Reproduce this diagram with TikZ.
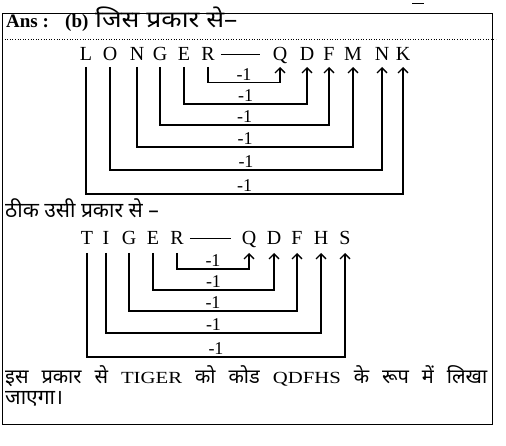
\documentclass[tikz,border=0pt]{standalone}
\usepackage{fontspec}
\setmainfont{Liberation Serif}
\newfontfamily\hin[Script=Devanagari]{Noto Sans}
\usetikzlibrary{arrows.meta}
\newcommand{\hw}[1]{{\hin\fontsize{20}{22}\selectfont #1}}
\newcommand{\lw}[1]{\scalebox{1.22}[1]{\fontsize{17}{19}\selectfont #1}}
\tikzset{
  ltr/.style={anchor=base, inner sep=0pt, font=\fontsize{20}{22}\selectfont},
  conn/.style={line width=1.4pt, black},
  arr/.style={conn, -{Straight Barb[length=5pt,width=10pt,line width=1.4pt]}},
  lbl/.style={midway, above=1.5pt, inner sep=0pt, font=\fontsize{18}{20}\selectfont},
  frame/.style={line width=0.8pt},
  txt/.style={anchor=base west, inner sep=0pt}
}
\begin{document}
\begin{tikzpicture}[x=1pt,y=-1pt]
\useasboundingbox (0,0) rectangle (506,446);
% frame
\draw[frame] (2,13) -- (492,13) -- (492,424) -- (2,424) -- cycle;
\draw[line width=0.6pt, dotted] (2,39) -- (496,39);
\draw[line width=0.8pt] (412,3) -- (424,3);
% heading
\node[txt] (ans) at (6,28) {\fontsize{19}{21}\selectfont\bfseries Ans :};
\node[txt] (b) at (65,28) {\fontsize{19}{21}\selectfont\bfseries (b)};
\node[txt] (h1) at (95,28) {\scalebox{1.15}[1]{\hin\fontsize{23}{25}\selectfont जिस प्रकार से–}};
% LONGER row
\foreach \n/\t/\x in {L1/L/86, O1/O/110, N1/N/137, G1/G/160, E1/E/184, R1/R/208,
  Q1/Q/280, D1/D/307, F1/F/329, M1/M/353, N2/N/382, K1/K/403}
  \node[ltr] (\n) at (\x,61) {\t};
\draw[conn] ([xshift=6pt]R1.east) -- ++(39pt,0);
\foreach \a/\b/\y in {R1/Q1/82.7, E1/D1/104, G1/F1/125, N1/M1/147, O1/N2/170, L1/K1/194}
  \draw[arr] ([yshift=-6pt]\a.base) -- (\a.base |- 0,\y) -- node[lbl]{-1} (\b.base |- 0,\y) -- ([yshift=-6pt]\b.base);
% middle text
\node[txt] (h2) at (5,218) {\hin\fontsize{21}{23}\selectfont ठीक उसी प्रकार से –};
% TIGER row
\foreach \n/\t/\x in {T2/T/87, I2/I/106, G2/G/129, E2/E/153, R2/R/177,
  Q2/Q/249, D2/D/274, F2/F/297, H2/H/321, S2/S/345}
  \node[ltr] (\n) at (\x,245) {\t};
\draw[conn] ([xshift=6pt]R2.east) -- ++(41pt,0);
\foreach \a/\b/\y in {R2/Q2/269, E2/D2/290, G2/F2/311, I2/H2/333, T2/S2/357}
  \draw[arr] ([yshift=-8pt]\a.base) -- (\a.base |- 0,\y) -- node[lbl]{-1} (\b.base |- 0,\y) -- ([yshift=-8pt]\b.base);
% bottom text
\node[txt] (p1) at (5,383) {\makebox[482pt][s]{%
  \hw{इस}\hfill\hw{प्रकार}\hfill\hw{से}\hfill\lw{TIGER}\hfill\hw{को}\hfill\hw{कोड}\hfill\lw{QDFHS}\hfill\hw{के}\hfill\hw{रूप}\hfill\hw{में}\hfill\hw{लिखा}}};
\node[txt] (p2) at (5,404) {\hin\fontsize{21}{23}\selectfont जाएगा।};
\end{tikzpicture}
\end{document}
